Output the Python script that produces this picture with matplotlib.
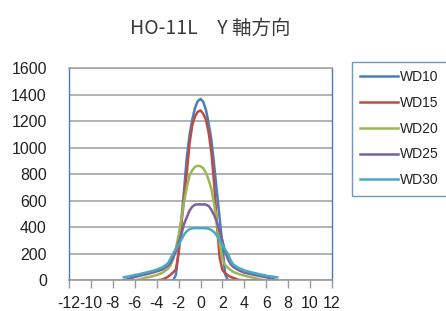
import numpy as np
import matplotlib
matplotlib.use("Agg")
import matplotlib.pyplot as plt

plt.rcParams['font.family'] = ['Liberation Sans', 'Noto Sans CJK JP', 'DejaVu Sans']
plt.rcParams['axes.unicode_minus'] = False

# position (mm): 0.5 step on the tails, 0.25 step in the middle
x = [-7, -6.5, -6, -5.5, -5, -4.5, -4, -3.5, -3,
     -2.75, -2.5, -2.25, -2, -1.75, -1.5, -1.25, -1, -0.75, -0.5, -0.25,
     0, 0.25, 0.5, 0.75, 1, 1.25, 1.5, 1.75, 2, 2.25, 2.5, 2.75,
     3, 3.5, 4, 4.5, 5, 5.5, 6, 6.5, 7]

wd10 = [0, 0, 0, 0, 0, 0, 0, 0, 0,
        0, 0, 40, 215, 450, 681, 925, 1095, 1210, 1300, 1350,
        1368, 1345, 1284, 1180, 1055, 865, 665, 465, 264, 45, 0, 0,
        0, 0, 0, 0, 0, 0, 0, 0, 0]
wd15 = [0, 0, 0, 0, 0, 0, 0, 5, 25,
        40, 60, 80, 200, 420, 620, 810, 1030, 1170, 1235, 1270,
        1280, 1255, 1210, 1110, 960, 720, 420, 170, 78, 53, 38, 25,
        18, 3, 0, 0, 0, 0, 0, 0, 0]
wd20 = [0, 0, 0, 8, 20, 28, 40, 55, 85,
        110, 160, 240, 340, 460, 590, 700, 790, 830, 855, 863,
        860, 845, 810, 755, 685, 570, 440, 280, 160, 115, 95, 78,
        63, 47, 35, 25, 17, 6, 0, 0, 0]
wd25 = [0, 12, 25, 35, 45, 55, 67, 80, 108,
        130, 170, 220, 285, 345, 425, 475, 525, 555, 570, 572,
        572, 572, 570, 560, 530, 490, 438, 365, 300, 215, 160, 122,
        100, 75, 58, 48, 40, 31, 23, 12, 0]
wd30 = [23, 30, 40, 48, 58, 68, 80, 97, 125,
        160, 200, 235, 268, 305, 345, 370, 385, 392, 393, 393,
        393, 393, 392, 388, 378, 362, 335, 302, 268, 230, 200, 150,
        118, 92, 75, 63, 53, 44, 35, 28, 23]

labels = ['WD10', 'WD15', 'WD20', 'WD25', 'WD30']
colors = ['#4A7EBB', '#BE4B48', '#98B954', '#7D60A0', '#46AAC5']

fig = plt.figure(figsize=(4.46, 3.11), dpi=100)
ax = fig.add_axes([69/446, 1-280.3/311, (332-69)/446, (280.3-68)/311])

for ys, lab, c in zip([wd10, wd15, wd20, wd25, wd30], labels, colors):
    ax.plot(x, ys, color=c, lw=1.8, label=lab, solid_joinstyle='round')

ax.set_xlim(-12, 12)
ax.set_ylim(0, 1600)
ax.set_xticks(np.arange(-12, 13, 2))
ax.set_yticks(np.arange(0, 1601, 200))
ax.yaxis.grid(True, color='#A6A6A6', lw=1.2)
ax.set_axisbelow(True)

ax.tick_params(axis='y', length=0, pad=16, labelsize=11.5, labelcolor='#222222')
ax.tick_params(axis='x', length=6, width=1, color='#999999', pad=5, labelsize=11.5, labelcolor='#222222')

for s in ['left', 'right']:
    ax.spines[s].set_color('#4A7EBB')
    ax.spines[s].set_linewidth(1.0)
ax.spines['top'].set_color('#A6A6A6')
ax.spines['top'].set_linewidth(1.2)
ax.spines['bottom'].set_color('#999999')
ax.spines['bottom'].set_linewidth(1.2)

fig.text(210/446, 1-28/311, 'HO-11L\u3000Y 軸方向', ha='center', va='center',
         fontsize=14, color='#3a3a3a', family=['Noto Sans CJK JP', 'DejaVu Sans'])

leg = fig.legend(loc='upper left', bbox_to_anchor=(352/446, 1-61.7/311), borderaxespad=0,
                 fontsize=10, frameon=True, fancybox=False, handlelength=2.7,
                 handletextpad=0.15, labelspacing=0.85, borderpad=0.6)
leg.get_frame().set_edgecolor('#4A7EBB')
leg.get_frame().set_linewidth(1.0)
for t in leg.get_texts():
    t.set_color('#222222')

fig.savefig('out.png', dpi=100)
